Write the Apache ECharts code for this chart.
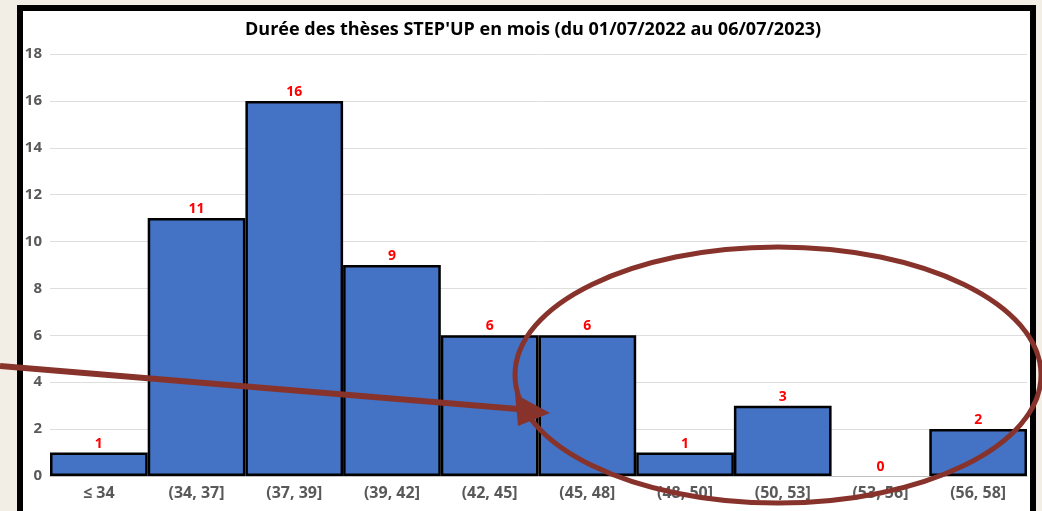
<!DOCTYPE html>
<html>
<head>
<meta charset="utf-8">
<script src="https://cdn.jsdelivr.net/npm/echarts@6/dist/echarts.min.js"></script>
<style>
	html, body { margin: 0; padding: 0; background: #f3eee5; }
	#frame { position: absolute; left: 17px; top: 5px; width: 1007px; height: 520px; border: 6px solid #000; background: #fff; }
	#chart { position: absolute; left: 0; top: 0; width: 1042px; height: 511px; }
</style>
</head>
<body>
<div id="frame"></div>
<div id="chart"></div>
<script>
	// Durée des thèses (mois), effectifs par classe
	let categories = ['≤ 34', '(34, 37]', '(37, 39]', '(39, 42]', '(42, 45]', '(45, 48]', '(48, 50]', '(50, 53]', '(53, 56]', '(56, 58]'];
	let counts = [1, 11, 16, 9, 6, 6, 1, 3, 0, 2];
	let yTicks = [0, 2, 4, 6, 8, 10, 12, 14, 16, 18];

	let annotColor = '#87332b';
	let chart = echarts.init(document.getElementById('chart'));

	// empty classes get no outline
	let barData = counts.map(function(v) {
		return { value: v, itemStyle: { borderWidth: v === 0 ? 0 : 2.5 } };
	});

	chart.setOption({
		backgroundColor: 'transparent',
		animation: false,
		title: {
			text: "Durée des thèses STEP'UP en mois (du 01/07/2022 au 06/07/2023)",
			left: 240,
			top: 16,
			textStyle: { fontFamily: 'Open Sans', fontWeight: 'bold', fontSize: 18, color: '#000' }
		},
		grid: { left: 50, right: 15, top: 54, bottom: 35 },
		xAxis: {
			type: 'category',
			data: categories,
			axisTick: { show: false },
			axisLine: { lineStyle: { color: '#bfbfbf', width: 1 } },
			axisLabel: { color: '#595959', fontFamily: 'Open Sans', fontWeight: 'bold', fontSize: 16, margin: 9 }
		},
		yAxis: {
			type: 'value',
			min: yTicks[0],
			max: yTicks[yTicks.length - 1],
			interval: 2,
			axisLine: { show: false },
			axisTick: { show: false },
			splitLine: { lineStyle: { color: '#dedede', width: 1 } },
			axisLabel: { color: '#595959', fontFamily: 'Open Sans', fontWeight: 'bold', fontSize: 15, margin: 8 }
		},
		series: [{
			type: 'bar',
			data: barData,
			barCategoryGap: '0%',
			itemStyle: { color: '#4472c4', borderColor: '#000', borderWidth: 2.5 },
			label: {
				show: true,
				position: 'top',
				distance: 2,
				color: '#ff0000',
				fontFamily: 'Open Sans',
				fontWeight: 'bold',
				fontSize: 14
			}
		}],
		graphic: [
			{
				type: 'ellipse',
				z: 100,
				shape: { cx: 778, cy: 375, rx: 263, ry: 128 },
				style: { fill: 'none', stroke: annotColor, lineWidth: 5 }
			},
			{
				type: 'line',
				z: 100,
				shape: { x1: 0, y1: 366, x2: 530, y2: 410 },
				style: { stroke: annotColor, lineWidth: 6 }
			},
			{
				type: 'polygon',
				z: 100,
				shape: { points: [[550, 413], [515, 394], [518, 426]] },
				style: { fill: annotColor }
			}
		]
	});
</script>
</body>
</html>
